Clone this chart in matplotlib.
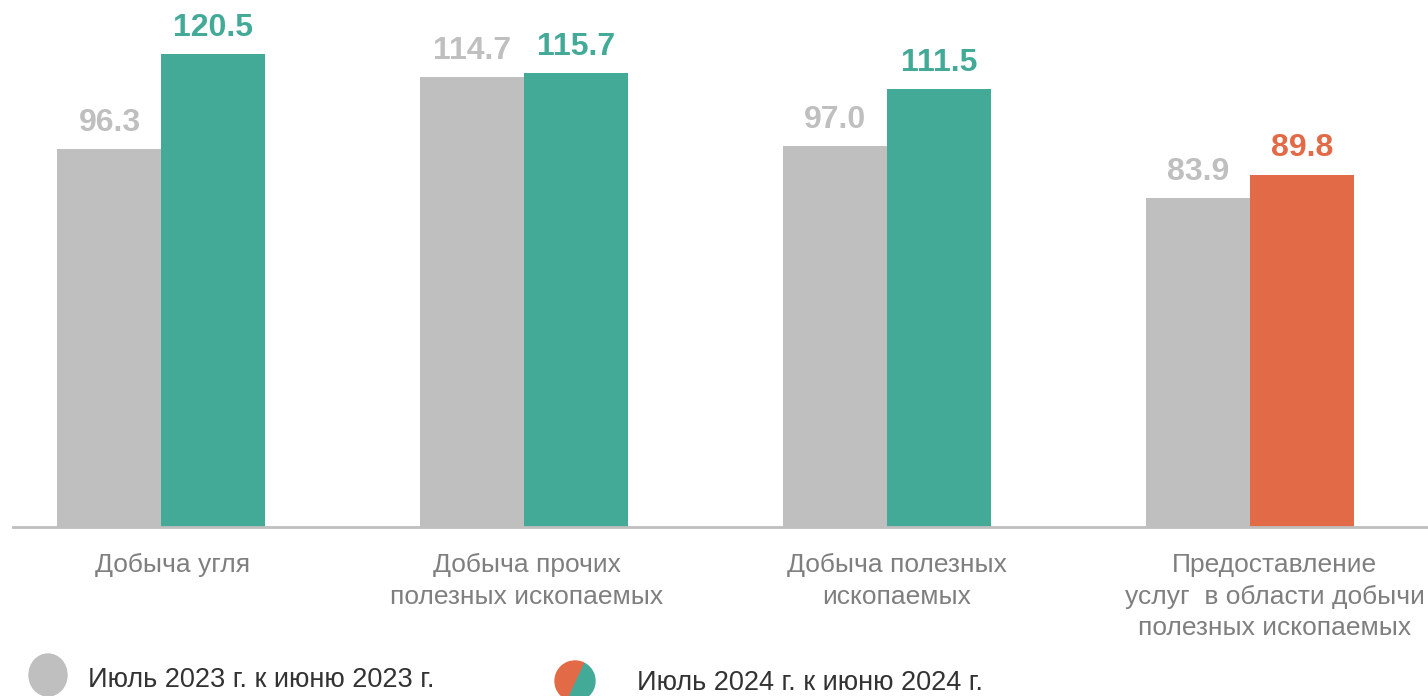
import matplotlib
matplotlib.use("Agg")
import matplotlib.pyplot as plt
import numpy as np
from matplotlib.patches import Ellipse, Wedge
from matplotlib.transforms import ScaledTranslation
from matplotlib import font_manager

# ── data ──
categories = ["Добыча угля",
              "Добыча прочих\nполезных ископаемых",
              "Добыча полезных\nископаемых",
              "Предоставление\nуслуг  в области добычи\nполезных ископаемых"]
vals_2023 = [96.3, 114.7, 97.0, 83.9]
vals_2024 = [120.5, 115.7, 111.5, 89.8]
legend_labels = ["Июль 2023 г. к июню 2023 г.", "Июль 2024 г. к июню 2024 г."]

GRAY = "#BFBFBF"
TEAL = "#44AA98"
ORANGE = "#E36A47"
colors_2024 = [TEAL if v >= 100 else ORANGE for v in vals_2024]

names = {f.name for f in font_manager.fontManager.ttflist}
plt.rcParams["font.family"] = ["Liberation Sans", "DejaVu Sans"]
narrow = "Liberation Sans Narrow" if "Liberation Sans Narrow" in names else "Liberation Sans"

W, H = 1428, 696
fig = plt.figure(figsize=(W / 100, H / 100), dpi=100)
ax = fig.add_axes([13 / W, (H - 527) / H, 1415 / W, 527 / H])

x = np.arange(len(categories))
bw = 0.2865
ax.bar(x - bw / 2, vals_2023, bw, color=GRAY)
ax.bar(x + bw / 2, vals_2024, bw, color=colors_2024)

for xi, v in zip(x, vals_2023):
    ax.annotate(f"{v:.1f}", (xi - bw / 2, v), xytext=(0, 8), textcoords="offset points",
                ha="center", va="bottom", fontsize=23, fontweight="bold", color=GRAY)
for xi, v, c in zip(x, vals_2024, colors_2024):
    ax.annotate(f"{v:.1f}", (xi + bw / 2, v), xytext=(0, 8), textcoords="offset points",
                ha="center", va="bottom", fontsize=23, fontweight="bold", color=c)

ax.set_xlim(-0.409, 3.489)
ax.set_ylim(0, 527 / 3.925)
for s in ["top", "right", "left"]:
    ax.spines[s].set_visible(False)
ax.spines["bottom"].set_color(GRAY)
ax.spines["bottom"].set_linewidth(2)
ax.set_yticks([])
ax.set_xticks(x)
ax.set_xticklabels(categories, fontsize=19, color="#7F7F7F", linespacing=1.38, va="top")
ax.tick_params(axis="x", length=0, pad=19)
# small horizontal nudges of the category labels, as in the original
for lab, dx in zip(ax.get_xticklabels(), [11, 2, 9, 24]):
    lab.set_transform(lab.get_transform() + ScaledTranslation(dx / 100, 0, fig.dpi_scale_trans))

# ── legend (drawn in pixel coords) ──
lg = fig.add_axes([0, 0, 1, 1], facecolor="none")
lg.set_xlim(0, W); lg.set_ylim(H, 0); lg.axis("off")
lg.add_patch(Ellipse((48, 675), 38, 42, color=GRAY))
lg.add_patch(Wedge((575, 681), 20, -65, 115, color=TEAL))
lg.add_patch(Wedge((575, 681), 20, 115, 295, color=ORANGE))
lg.text(88, 680, legend_labels[0], fontsize=19.5, family=[narrow, "DejaVu Sans"],
        color="#333333", va="center", ha="left")
lg.text(637, 683, legend_labels[1], fontsize=19.5, family=[narrow, "DejaVu Sans"],
        color="#333333", va="center", ha="left")

fig.savefig("out.png", dpi=100)
